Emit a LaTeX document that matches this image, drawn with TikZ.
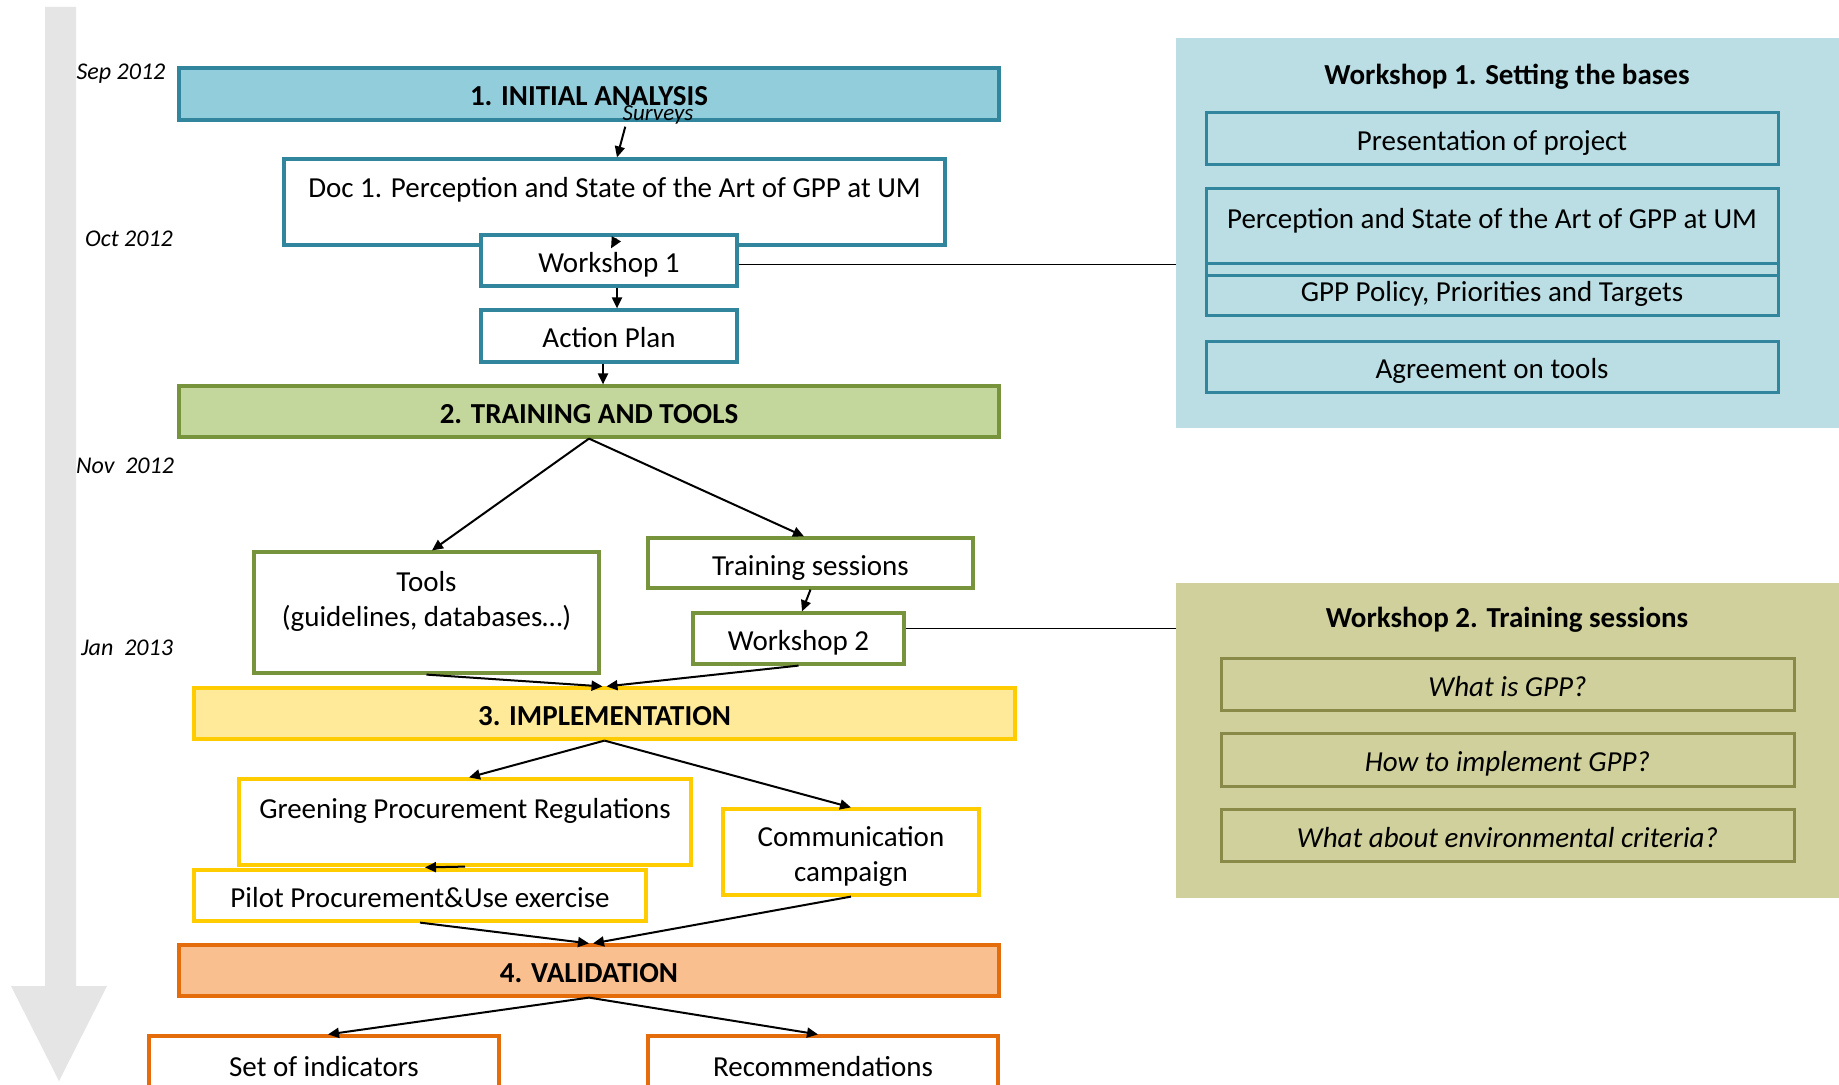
\documentclass[tikz,border=0pt]{standalone}
\usepackage{fontspec}
\setmainfont{Carlito}
\usetikzlibrary{arrows.meta,calc}
\definecolor{tealB}{RGB}{49,133,156}
\definecolor{tealF}{RGB}{146,205,220}
\definecolor{panelA}{RGB}{186,222,228}
\definecolor{greenB}{RGB}{119,147,60}
\definecolor{greenF}{RGB}{195,214,155}
\definecolor{panelB}{RGB}{208,208,156}
\definecolor{oliveB}{RGB}{138,138,72}
\definecolor{yelB}{RGB}{255,204,0}
\definecolor{yelF}{RGB}{255,234,153}
\definecolor{orB}{RGB}{228,108,10}
\definecolor{orF}{RGB}{250,191,143}
\definecolor{greyArr}{RGB}{229,229,229}
\begin{document}
\begin{tikzpicture}[x=0.5pt,y=-0.5pt,
  font=\fontsize{14.5}{17.5}\selectfont,
  tt/.style={text height=13pt, text depth=1pt},
  bx/.style={draw, line width=1.6pt, inner sep=0pt, align=center, tt},
  pbx/.style={draw, line width=1.5pt, inner sep=0pt, align=center, tt},
  txt/.style={inner sep=0pt, align=center, tt},
  txtm/.style={inner sep=0pt, align=center},
  datelbl/.style={inner sep=0pt, font=\fontsize{12}{14}\selectfont\itshape},
  arr/.style={-{Triangle[length=5.5pt,width=5pt]}, line width=1pt},
  link/.style={line width=0.8pt}]
\clip (0,0) rectangle (1839,1085);
\fill[white] (0,0) rectangle (1839,1085);
% timeline arrow
\fill[greyArr] (45,7) -- (76,7) -- (76,986) -- (107,986) -- (59,1081) -- (11,986) -- (45,986) -- cycle;
% dates
\node[datelbl] (d1) at (121,74) {Sep 2012};
\node[datelbl] (d2) at (129,239) {Oct 2012};
\node[datelbl] (d3) at (125,466) {Nov~~2012};
\node[datelbl] (d4) at (127,648) {Jan~~2013};
% right panels
\node[fill=panelA, minimum width=331.5pt, minimum height=195pt, inner sep=0pt] (panel1) at (1507.5,233) {};
\node[fill=panelB, minimum width=331.5pt, minimum height=157.5pt, inner sep=0pt] (panel2) at (1507.5,740.5) {};
\node[txt, font=\fontsize{14.5}{17.5}\selectfont\bfseries] (p1t) at (1507,73) {Workshop 1. Setting the bases};
\node[pbx, draw=tealB, minimum width=286pt, minimum height=26pt] (pa) at (1492,139) {Presentation of project};
\node[pbx, draw=tealB, minimum width=286pt, minimum height=43.5pt] (pb) at (1492,232.5) {};
\node[txt] (pbt) at (1492,217) {Perception and State of the Art of GPP at UM};
\node[pbx, draw=tealB, minimum width=286pt, minimum height=26pt] (pc) at (1492,290) {GPP Policy, Priorities and Targets};
\node[pbx, draw=tealB, minimum width=286pt, minimum height=25.5pt] (pd) at (1492,366.5) {Agreement on tools};
\node[txt, font=\fontsize{14.5}{17.5}\selectfont\bfseries] (p2t) at (1507,615) {Workshop 2. Training sessions};
\node[pbx, draw=oliveB, minimum width=286.5pt, minimum height=26pt, font=\fontsize{14.5}{17.5}\selectfont\itshape] (pe) at (1507.5,684) {What is GPP?};
\node[pbx, draw=oliveB, minimum width=286.5pt, minimum height=26.5pt, font=\fontsize{14.5}{17.5}\selectfont\itshape] (pf) at (1507.5,759.5) {How to implement GPP?};
\node[pbx, draw=oliveB, minimum width=286.5pt, minimum height=26pt, font=\fontsize{14.5}{17.5}\selectfont\itshape] (pg) at (1507.5,835) {What about environmental criteria?};
% phase 1
\node[bx, draw=tealB, fill=tealF, minimum width=410pt, minimum height=26pt, font=\fontsize{14.5}{17.5}\selectfont\bfseries] (box1) at (589,94) {1. INITIAL ANALYSIS};
\node[txtm, font=\fontsize{11.5}{13}\selectfont\itshape] (surveys) at (658,115) {Surveys};
\node[bx, draw=tealB, minimum width=330.5pt, minimum height=43pt] (doc1) at (614.5,202) {};
\node[txt] (doc1t) at (614.5,186) {Doc 1. Perception and State of the Art of GPP at UM};
\node[bx, draw=tealB, fill=white, minimum width=128pt, minimum height=25.5pt] (ws1) at (609,260.5) {Workshop 1};
\node[bx, draw=tealB, minimum width=128pt, minimum height=26pt] (ap) at (609,336) {Action Plan};
% phase 2
\node[bx, draw=greenB, fill=greenF, minimum width=410pt, minimum height=25.5pt, font=\fontsize{14.5}{17.5}\selectfont\bfseries] (box2) at (589,411.5) {2. TRAINING AND TOOLS};
\node[bx, draw=greenB, minimum width=172.5pt, minimum height=60.5pt] (tools) at (426.5,612.5) {};
\node[txtm] (toolst) at (426.5,601.5) {Tools\\(guidelines, databases…)};
\node[bx, draw=greenB, minimum width=162.5pt, minimum height=25pt] (ts) at (810.5,563) {Training sessions};
\node[bx, draw=greenB, minimum width=105.5pt, minimum height=25.5pt] (ws2) at (798.5,638.5) {Workshop 2};
% phase 3
\node[bx, draw=yelB, fill=yelF, minimum width=410.5pt, minimum height=25.5pt, font=\fontsize{14.5}{17.5}\selectfont\bfseries] (box3) at (604.5,713.5) {3. IMPLEMENTATION};
\node[bx, draw=yelB, minimum width=226pt, minimum height=43pt] (gpr) at (465,822) {};
\node[txt] (gprt) at (465,806) {Greening Procurement Regulations};
\node[bx, draw=yelB, fill=white, minimum width=226pt, minimum height=25.5pt] (pilot) at (420,895.5) {Pilot Procurement\&Use exercise};
\node[bx, draw=yelB, minimum width=128pt, minimum height=43pt] (comm) at (851,852) {};
\node[txtm] (commt) at (851,856.7) {Communication\\campaign};
% phase 4
\node[bx, draw=orB, fill=orF, minimum width=410pt, minimum height=25.5pt, font=\fontsize{14.5}{17.5}\selectfont\bfseries] (box4) at (589,970.5) {4. VALIDATION};
\node[bx, draw=orB, minimum width=175pt, minimum height=32pt] (soi) at (324,1068) {};
\node[txt] (soit) at (324,1064) {Set of indicators};
\node[bx, draw=orB, minimum width=175pt, minimum height=32pt] (rec) at (823,1068) {};
\node[txt] (rect) at (823,1064) {Recommendations};
% connectors
\draw[arr] ([xshift=1.5pt,yshift=-1pt]surveys.south west) -- ([xshift=1.25pt]doc1.north);
\draw[arr] ([xshift=1pt,yshift=4pt]doc1.south) -- ([xshift=1pt,yshift=-7.5pt]ws1.north);
\draw[arr] ([xshift=4pt]ws1.south) -- ([xshift=4pt]ap.north);
\draw[arr] ([xshift=-3pt]ap.south) -- ([xshift=-3pt]box2.north -| ap.south);
\draw[arr] (box2.south) -- ([xshift=2.75pt]tools.north);
\draw[arr] (box2.south) -- ([xshift=-3.25pt]ts.north);
\draw[arr] (ts.south) -- ([xshift=1.75pt]ws2.north);
\draw[arr] (tools.south) -- ([xshift=-1pt]box3.north);
\draw[arr] (ws2.south) -- ([xshift=1pt]box3.north);
\draw[arr] (box3.south) -- ([xshift=2pt]gpr.north);
\draw[arr] (box3.south) -- (comm.north);
\draw[arr] (gpr.south) -- ([xshift=2.5pt,yshift=0.5pt]pilot.north);
\draw[arr] (pilot.south) -- (box4.north);
\draw[arr] (comm.south) -- ([xshift=2pt]box4.north);
\draw[arr] (box4.south) -- ([xshift=2pt]soi.north);
\draw[arr] (box4.south) -- ([xshift=-2.5pt]rec.north);
\draw[link] ([yshift=-2pt]ws1.east) -- ([yshift=-2pt]ws1.east -| panel1.west);
\draw[link] ([yshift=5pt]ws2.east) -- ([yshift=5pt]ws2.east -| panel2.west);
\end{tikzpicture}
\end{document}
